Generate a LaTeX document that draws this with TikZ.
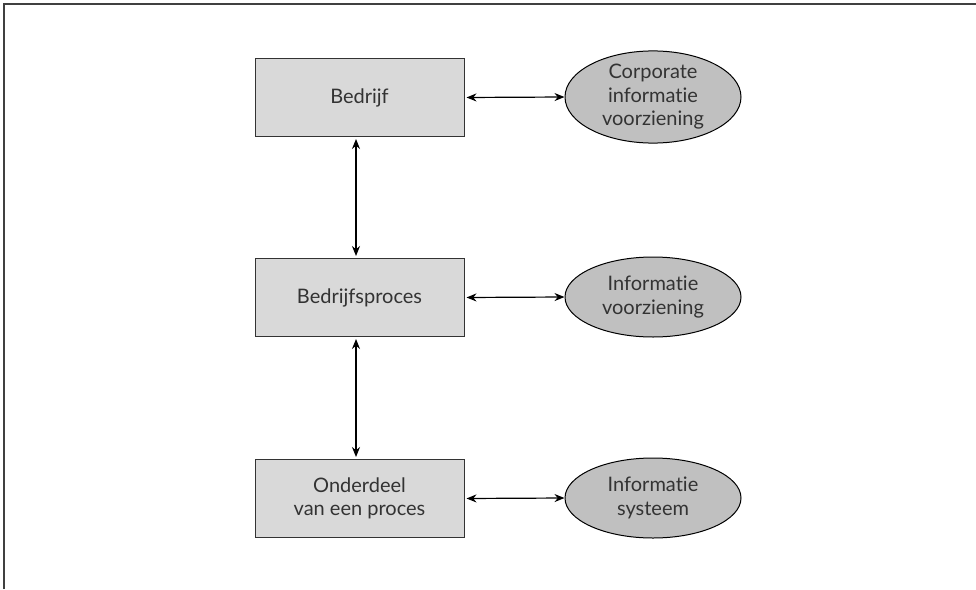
\documentclass[tikz,border=0pt]{standalone}
\usepackage{fontspec}
\setmainfont{Lato}[Ligatures={NoCommon}]
\usetikzlibrary{arrows.meta,shapes.geometric}
\definecolor{boxfill}{HTML}{D9D9D9}
\definecolor{ovalfill}{HTML}{C0C0C0}
\definecolor{txt}{HTML}{333333}
\tikzset{
  labeltext/.style={align=center, text=txt, font=\fontsize{20}{23.5}\selectfont},
  level/.style={labeltext, draw=black!80, line width=1pt, fill=boxfill, minimum width=209pt, minimum height=78pt,
    inner sep=0pt},
  infooval/.style={labeltext, ellipse, draw=black, line width=1pt, fill=ovalfill, minimum width=176pt, minimum height=80pt,
    inner sep=0pt},
  link/.style={line width=1.2pt, {Stealth[length=10pt,width=8pt]}-{Stealth[length=10pt,width=8pt]}}
}
\begin{document}
\begin{tikzpicture}[x=1pt,y=-1pt]
\useasboundingbox (0,0) rectangle (976,589);
% open frame: top and left edges only
\draw[line width=1.3pt, black!75] (4,589) -- (4,4) -- (976,4);

\node[level] (b1) at (359.5,97.5) {Bedrijf};
\node[level] (b2) at (359.5,297.5) {Bedrijfsproces};
\node[level] (b3) at (359.5,498.5) {Onderdeel\\van een proces};

\node[infooval] (e1) at (653,97) {Corporate\\informatie\\voorziening};
\node[infooval] (e2) at (653,297) {Informatie\\voorziening};
\node[infooval] (e3) at (653,498) {Informatie\\systeem};

\draw[link, shorten <=2pt] (b1.east) -- (e1.west);
\draw[link, shorten <=2pt] (b2.east) -- (e2.west);
\draw[link, shorten <=2pt] (b3.east) -- (e3.west);

\draw[link, shorten <=2pt, shorten >=2pt] ([xshift=-3.5pt]b1.south) -- ([xshift=-3.5pt]b2.north);
\draw[link, shorten <=2pt, shorten >=2pt] ([xshift=-3.5pt]b2.south) -- ([xshift=-3.5pt]b3.north);
\end{tikzpicture}
\end{document}
